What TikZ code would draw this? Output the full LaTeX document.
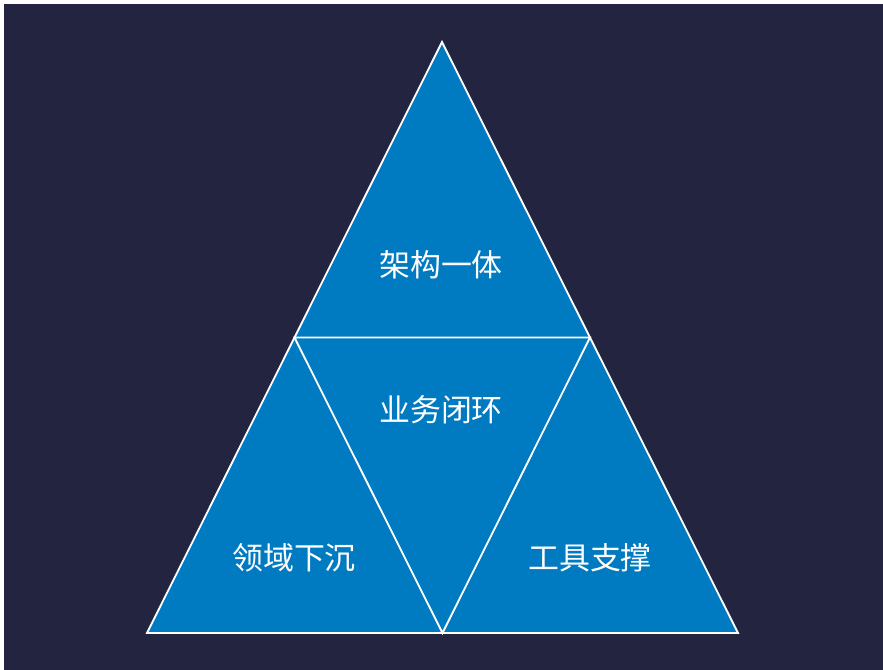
\documentclass[tikz,border=0pt]{standalone}
\usepackage{fontspec}
\newfontfamily\cjk{Noto Sans CJK SC}
\usepackage{tikz}
\usetikzlibrary{calc}

\definecolor{bgnavy}{RGB}{35,36,64}
\definecolor{triblue}{RGB}{0,122,192}

\begin{document}
\begin{tikzpicture}[x=0.025cm, y=-0.025cm, line join=miter]
    % 背景
    \useasboundingbox (0,0) rectangle (883,670);
    \fill[white] (0,0) rectangle (883,670);
    \fill[bgnavy] (4,4) rectangle (883,670);

    % 定义坐标
    \coordinate (top) at (442, 42);
    \coordinate (left) at (147, 633);
    \coordinate (right) at (738, 633);
    \coordinate (midL) at ($(top)!0.5!(left)$);
    \coordinate (midR) at ($(top)!0.5!(right)$);
    \coordinate (midB) at ($(left)!0.5!(right)$);

    % 绘制大三角形
    \filldraw[fill=triblue, draw=white, line width=1.3pt] (top) -- (right) -- (left) -- cycle;

    % 绘制内部三角形
    \draw[white, line width=1.3pt] (midL) -- (midR) -- (midB) -- cycle;

    % 标注文字
    \node[white, font=\cjk\fontsize{22}{26}\selectfont] (arch) at (441, 265) {架构一体};
    \node[white, font=\cjk\fontsize{22}{26}\selectfont] (biz) at (441, 410) {业务闭环};
    \node[white, font=\cjk\fontsize{22}{26}\selectfont] (domain) at (294, 558) {领域下沉};
    \node[white, font=\cjk\fontsize{22}{26}\selectfont] (tool) at (590, 558) {工具支撑};
\end{tikzpicture}
\end{document}
